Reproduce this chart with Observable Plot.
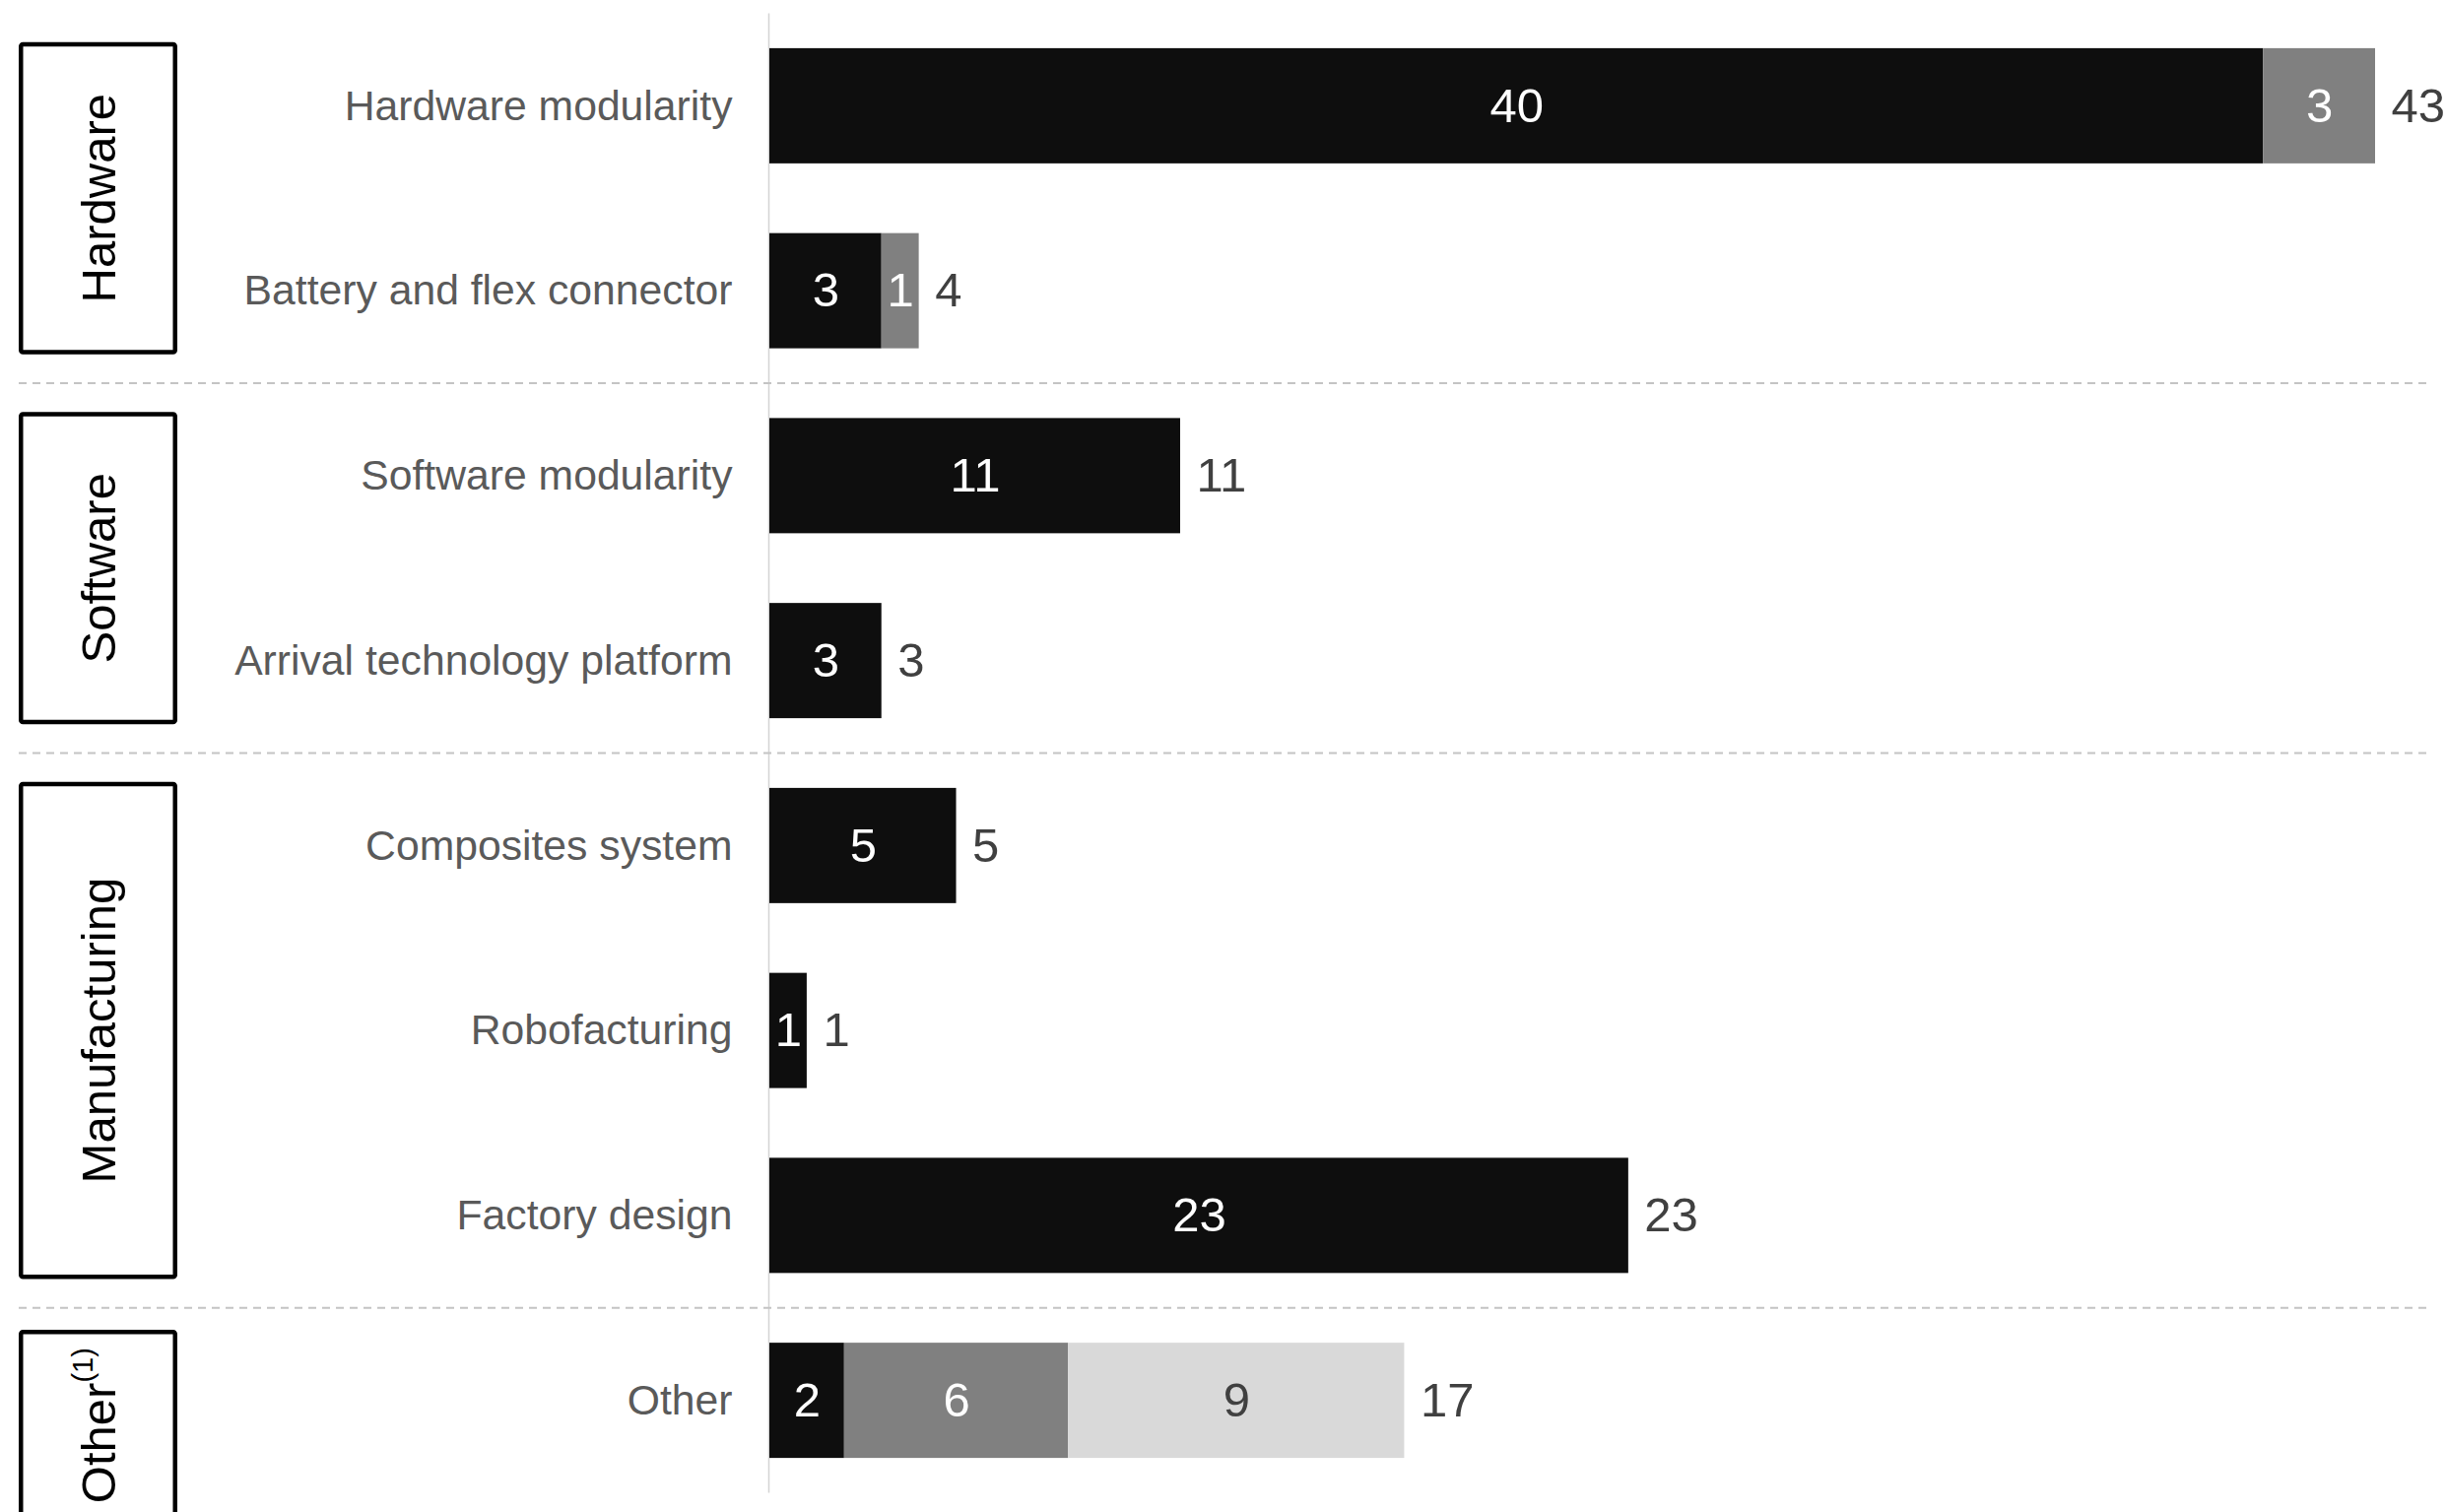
<!DOCTYPE html>
<html>
<head>
<meta charset="utf-8">
<script src="https://cdn.jsdelivr.net/npm/d3@7"></script>
<script src="https://cdn.jsdelivr.net/npm/@observablehq/plot@0.6"></script>
<style>
html, body { margin: 0; padding: 0; overflow: hidden; background: #ffffff; }
#chart svg { display: block; }
</style>
</head>
<body>
<div id="chart"></div>
<script>
// ---- Data ----
const categories = [
  "Hardware modularity",
  "Battery and flex connector",
  "Software modularity",
  "Arrival technology platform",
  "Composites system",
  "Robofacturing",
  "Factory design",
  "Other"
];
const groups = ["Hardware", "Hardware", "Software", "Software", "Manufacturing", "Manufacturing", "Manufacturing", "Other"];
const groupNames = ["Hardware", "Software", "Manufacturing", "Other"];
const groupSuperscripts = ["", "", "", "(1)"];
const seriesNames = ["Series 1", "Series 2", "Series 3"];
const series1 = [40, 3, 11, 3, 5, 1, 23, 2];
const series2 = [3, 1, 0, 0, 0, 0, 0, 6];
const series3 = [0, 0, 0, 0, 0, 0, 0, 9];

// ---- Styles ----
const seriesColors = ["#0e0e0e", "#808080", "#d9d9d9"];
const FONT = "'Liberation Sans', Arial, Helvetica, sans-serif";

// ---- Derived tables ----
const seriesValues = [series1, series2, series3];
const rows = [];
categories.forEach((c, i) => {
  seriesValues.forEach((vals, s) => {
    if (vals[i] > 0) rows.push({category: c, series: seriesNames[s], value: vals[i]});
  });
});
const totals = categories.map((c, i) => ({category: c, total: d3.sum(seriesValues, v => v[i])}));

const stackOpts = {x: "value", y: "category", z: "series", order: seriesNames};

const chart = Plot.plot({
  width: 2483,
  height: 1535,
  marginLeft: 781,
  marginRight: 72,
  marginTop: 13.5,
  marginBottom: 19.5,
  style: {fontFamily: FONT, background: "#ffffff", overflow: "hidden"},
  x: {domain: [0, d3.max(totals, d => d.total)], axis: null},
  y: {domain: categories, paddingInner: 0.377, paddingOuter: 0.1885, round: false, label: null},
  color: {domain: seriesNames, range: seriesColors},
  marks: [
    Plot.ruleX([0], {stroke: "#d4d4d4", strokeWidth: 1.5, dx: -1}),
    Plot.barX(rows, Plot.stackX({...stackOpts, fill: "series"})),
    Plot.text(rows, Plot.filter(d => d.series !== seriesNames[2],
      Plot.stackX({...stackOpts, text: d => String(d.value), fill: "#ffffff", fontSize: 49}))),
    Plot.text(rows, Plot.filter(d => d.series === seriesNames[2],
      Plot.stackX({...stackOpts, text: d => String(d.value), fill: "#404040", fontSize: 49}))),
    Plot.text(totals, {x: "total", y: "category", text: d => String(d.total), textAnchor: "start", dx: 16, fill: "#404040", fontSize: 49}),
    Plot.axisY({tickSize: 0, tickPadding: 38, fontSize: 42.7, color: "#5a5a5a", label: null})
  ]
});

document.getElementById("chart").appendChild(chart);

// ---- Group boxes and separators, positioned from Plot's y scale ----
const y = chart.scale("y");
const bw = y.bandwidth;
const step = y.step;
const svg = d3.select(chart);
const deco = svg.append("g");
const MIN_BOX = 190;

groupNames.forEach((g, gi) => {
  const cats = categories.filter((c, i) => groups[i] === g);
  const firstTop = y.apply(cats[0]);
  const lastBottom = y.apply(cats[cats.length - 1]) + bw;
  if (gi > 0) {
    const yy = firstTop - (step - bw) / 2;
    deco.append("line")
      .attr("x1", 19).attr("x2", 2465)
      .attr("y1", yy).attr("y2", yy)
      .attr("stroke", "#c4c4c4")
      .attr("stroke-width", 2)
      .attr("stroke-dasharray", "8,6");
  }
  let top = firstTop - 4;
  let bottom = lastBottom + 4;
  if (bottom - top < MIN_BOX) {
    top -= 7;
    bottom = top + MIN_BOX;
  }
  deco.append("rect")
    .attr("x", 21.25).attr("y", top)
    .attr("width", 156.5).attr("height", bottom - top)
    .attr("rx", 2)
    .attr("fill", "none")
    .attr("stroke", "#000000")
    .attr("stroke-width", 4.5);
  const cx = 100, cy = (top + bottom) / 2;
  const t = deco.append("text")
    .attr("transform", `translate(${cx},${cy}) rotate(-90)`)
    .attr("text-anchor", "middle")
    .attr("dominant-baseline", "central")
    .attr("font-family", FONT)
    .attr("font-size", 49)
    .attr("fill", "#000000");
  t.append("tspan").text(g);
  if (groupSuperscripts[gi]) {
    t.append("tspan")
      .attr("baseline-shift", "super")
      .attr("font-size", 29)
      .text(groupSuperscripts[gi]);
  }
});
</script>
</body>
</html>
